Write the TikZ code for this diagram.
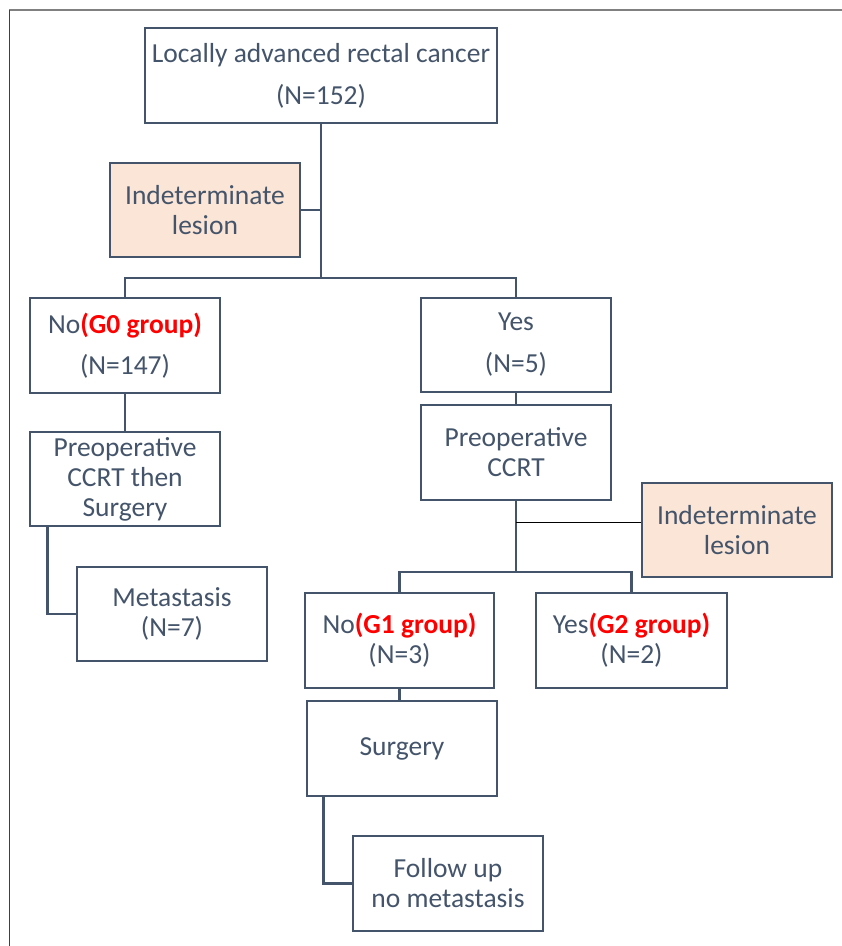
\documentclass[tikz,border=0pt]{standalone}
\usepackage{fontspec}
\setmainfont{Carlito}
\definecolor{slate}{HTML}{44546A}
\definecolor{peach}{HTML}{FBE5D6}
\definecolor{grp}{HTML}{FF0000}
\begin{document}
\begin{tikzpicture}[x=1pt,y=-1pt,
  box/.style={draw=slate, line width=2.5pt, fill=white, rectangle, align=center,
    text=slate, inner sep=0pt, minimum width=190pt, minimum height=94pt,
    font=\fontsize{27.5}{30}\selectfont},
  ibox/.style={box, fill=peach},
  conn/.style={draw=slate, line width=2.6pt},
  thinconn/.style={draw=black, line width=1pt}]
\useasboundingbox (0,0) rectangle (842,946);
% frame
\draw[draw=gray, line width=1.5pt] (9,10) -- (842,10);
\draw[draw=darkgray, line width=0.8pt] (9,10) -- (9,946);
% nodes
\node[box, minimum width=352pt, minimum height=95pt] (top) at (321,75.5)
  {Locally advanced rectal cancer\\[12pt](N=152)};
\node[ibox] (ind1) at (205,210) {Indeterminate\\lesion};
\node[box, minimum height=95pt] (g0) at (125,345.5)
  {No{\color{grp}\bfseries(G0 group)}\\[11pt](N=147)};
\node[box] (pre0) at (125,479) {Preoperative\\CCRT then\\Surgery};
\node[box] (met) at (172,614) {Metastasis\\(N=7)};
\node[box] (yes) at (516,345) {Yes\\[12pt](N=5)};
\node[box, minimum height=95pt] (pre1) at (516,452.5) {Preoperative\\CCRT};
\node[ibox] (ind2) at (737,530) {Indeterminate\\lesion};
\node[box, minimum width=189pt, minimum height=95pt] (g1) at (399.5,640.5)
  {No{\color{grp}\bfseries(G1 group)}\\(N=3)};
\node[box, minimum width=191pt, minimum height=95pt] (g2) at (631.5,640.5)
  {Yes{\color{grp}\bfseries(G2 group)}\\(N=2)};
\node[box, minimum height=95pt] (surg) at (402,748.5) {Surgery};
\node[box, minimum height=95pt] (fol) at (448,883.5) {Follow up\\no metastasis};
% junctions
\coordinate (j1) at (321,278);
\coordinate (j2) at (516,572);
\coordinate (k) at (516,522);
% connectors
\draw[conn] (top.south) -- (j1);
\draw[conn] (ind1.east) -- (ind1.east -| j1);
\draw[conn] (g0.north) |- (j1) -| (yes.north);
\draw[conn] (g0.south) -- (pre0.north);
\draw[conn] ([xshift=19pt]pre0.south west) |- (met.west);
\draw[conn] (yes.south) -- (pre1.north);
\draw[conn] (pre1.south) -- (j2);
\draw[conn] (g1.north) |- (j2) -| (g2.north);
\draw[thinconn] (k) -- (ind2.west |- k);
\draw[conn] (g1.south) -- (g1.south |- surg.north);
\draw[conn] ([xshift=18pt]surg.south west) |- (fol.west);
\end{tikzpicture}
\end{document}
